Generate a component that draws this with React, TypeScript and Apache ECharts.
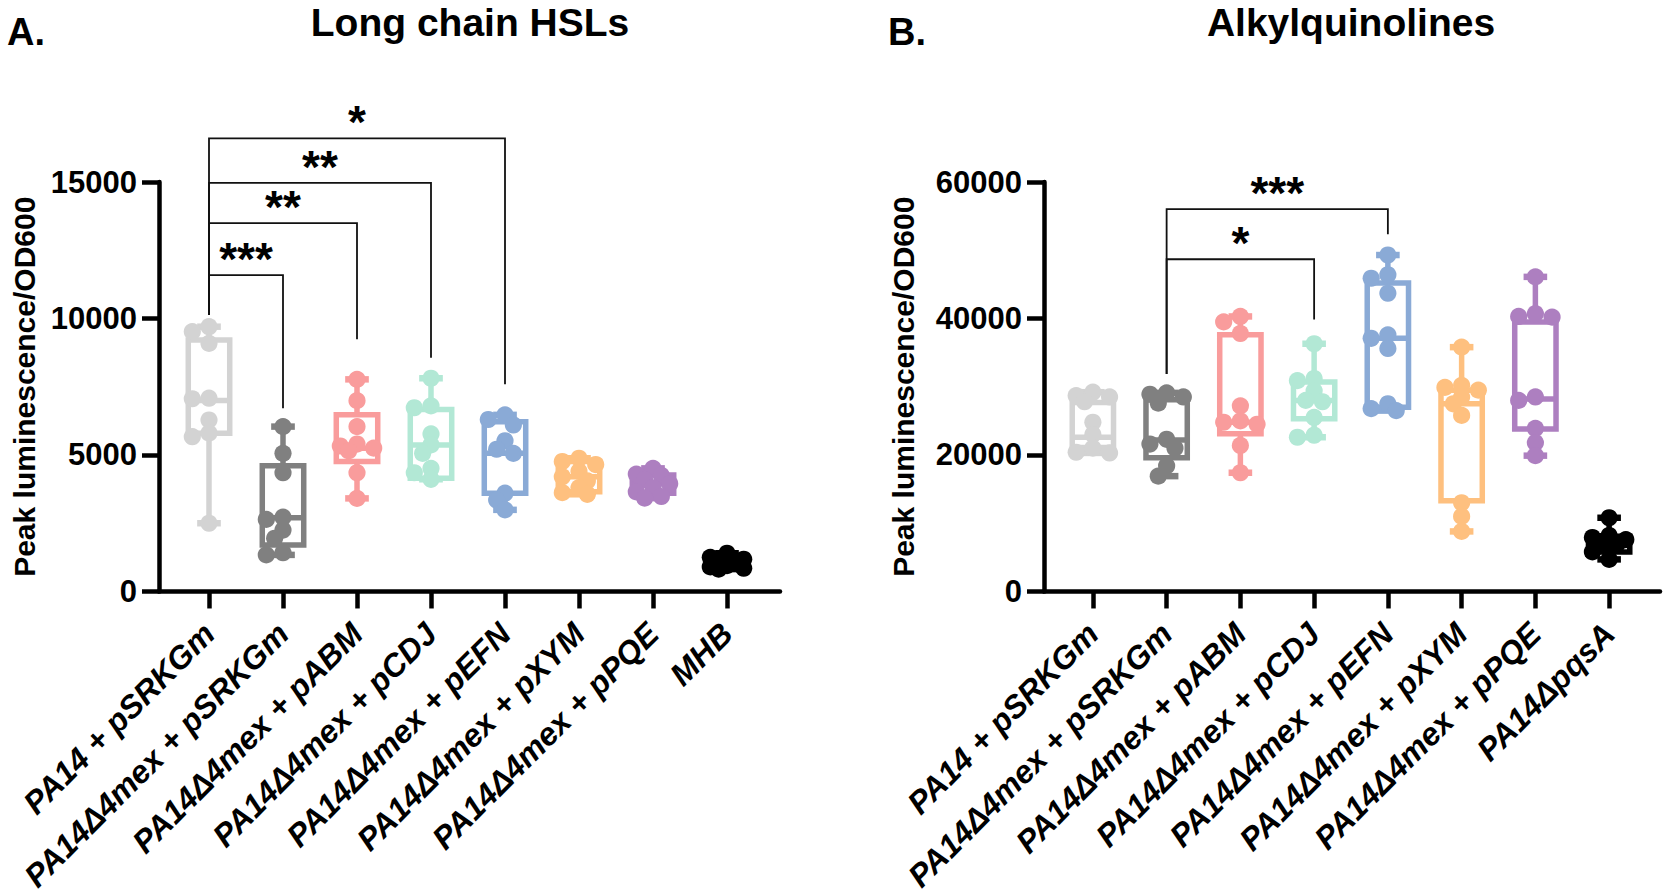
import React, { useEffect, useRef } from "react";
import * as echarts from "echarts";

const FONT = "'Liberation Sans', Arial, Helvetica, sans-serif";

const categoriesA = [
  "PA14 + pSRKGm",
  "PA14Δ4mex + pSRKGm",
  "PA14Δ4mex + pABM",
  "PA14Δ4mex + pCDJ",
  "PA14Δ4mex + pEFN",
  "PA14Δ4mex + pXYM",
  "PA14Δ4mex + pPQE",
  "MHB",
];
const categoriesB = [
  "PA14 + pSRKGm",
  "PA14Δ4mex + pSRKGm",
  "PA14Δ4mex + pABM",
  "PA14Δ4mex + pCDJ",
  "PA14Δ4mex + pEFN",
  "PA14Δ4mex + pXYM",
  "PA14Δ4mex + pPQE",
  "PA14ΔpqsA",
];
const groupColors = ["#d3d3d3", "#808080", "#f99c9c", "#b2e8d5", "#8aaad6", "#fec07f", "#ad7fc0", "#000000"];

// Panel A: individual points per group
const pointsA = [
  [9700, 9520, 9090, 7080, 7060, 6280, 5800, 5670, 2500],
  [6040, 5060, 4350, 2720, 2640, 2250, 1950, 1420, 1340],
  [7770, 6990, 6040, 5400, 5330, 5250, 5150, 4350, 3410],
  [7810, 6800, 6730, 5770, 5370, 5060, 4510, 4350, 4110],
  [6470, 6300, 6100, 5520, 5210, 5060, 3600, 3350, 2990],
  [4880, 4760, 4650, 4400, 4200, 4050, 3800, 3620, 3560],
  [4510, 4300, 4250, 4100, 3950, 3800, 3650, 3480, 3420],
  [1400, 1250, 1180, 1100, 1050, 950, 900, 850, 820],
];
// Panel A: [min, Q1, median, Q3, max]
const boxesA = [
  [2500, 5800, 7000, 9210, 9700],
  [1340, 1700, 2700, 4610, 6040],
  [3410, 4760, 5250, 6470, 7770],
  [4110, 4150, 5370, 6670, 7810],
  [2990, 3600, 5060, 6220, 6470],
  [3560, 3650, 4200, 4760, 4880],
  [3420, 3600, 3950, 4270, 4510],
  [820, 900, 1050, 1200, 1400],
];

// Panel B
const pointsB = [
  [29200, 28700, 28500, 27800, 24800, 23000, 21000, 20400, 20300],
  [29100, 28900, 28500, 27600, 22300, 21600, 21000, 18400, 16900],
  [40300, 39500, 37800, 27200, 25000, 24800, 24500, 21400, 17400],
  [36300, 31200, 30900, 29400, 28000, 27800, 25500, 22900, 22600],
  [49300, 46400, 45900, 43700, 37600, 37100, 35600, 27500, 26800, 26500],
  [35800, 30200, 29900, 29500, 28500, 27500, 25800, 13000, 11000, 8800],
  [46100, 40700, 40300, 40200, 28500, 28000, 23900, 21800, 19900],
  [10800, 8200, 7900, 7600, 7300, 7000, 6700, 5800, 4700],
];
const boxesB = [
  [20300, 21100, 22600, 27700, 29200],
  [16900, 19600, 22200, 28100, 29100],
  [17400, 23100, 24800, 37600, 40300],
  [22600, 25300, 28000, 30700, 36300],
  [26500, 27000, 37100, 45200, 49300],
  [8800, 13300, 27500, 29500, 35800],
  [19900, 23800, 28200, 39500, 46100],
  [4700, 5800, 7300, 8100, 10800],
];

// Significance brackets
const bracketFromA = [0, 0, 0, 0];
const bracketToA = [1, 2, 3, 4];
const bracketTopA = [11590, 13490, 14970, 16600];
const bracketLegFromA = [10130, 10130, 10130, 10130];
const bracketLegToA = [6710, 9240, 8560, 7590];
const bracketLabelA = ["***", "**", "**", "*"];

const bracketFromB = [1, 1];
const bracketToB = [3, 4];
const bracketTopB = [48680, 56030];
const bracketLegFromB = [31850, 31850];
const bracketLegToB = [39850, 52350];
const bracketLabelB = ["*", "***"];

const yMaxA = 15000;
const yStepA = 5000;
const yMaxB = 60000;
const yStepB = 20000;

function boxRender(boxes: number[][]) {
  return (params: any, api: any) => {
    const i = params.dataIndex;
    const [mn, q1, md, q3, mx] = boxes[i];
    const band = api.size([1, 0])[0];
    const cx = api.coord([i, md])[0];
    const y = (v: number) => api.coord([i, v])[1];
    const w = band * 0.56;
    const cw = band * 0.32;
    const c = groupColors[i];
    const ls = { stroke: c, lineWidth: 5.5, fill: "none" };
    const cs = { stroke: c, lineWidth: 6.5, fill: "none" };
    return {
      type: "group",
      children: [
        { type: "line", shape: { x1: cx, y1: y(q3), x2: cx, y2: y(mx) }, style: ls },
        { type: "line", shape: { x1: cx, y1: y(q1), x2: cx, y2: y(mn) }, style: ls },
        { type: "line", shape: { x1: cx - cw / 2, y1: y(mx), x2: cx + cw / 2, y2: y(mx) }, style: cs },
        { type: "line", shape: { x1: cx - cw / 2, y1: y(mn), x2: cx + cw / 2, y2: y(mn) }, style: cs },
        { type: "rect", shape: { x: cx - w / 2, y: y(q3), width: w, height: y(q1) - y(q3) }, style: ls },
        { type: "line", shape: { x1: cx - w / 2, y1: y(md), x2: cx + w / 2, y2: y(md) }, style: ls },
      ],
    };
  };
}

// beeswarm offsets (pixels) for one group, computed from pixel y positions
function swarm(py: number[]) {
  const STEP = 8.35;
  const D = 10.5;
  const cands = [0, -STEP, STEP, -2 * STEP, 2 * STEP];
  const order = py.map((_, j) => j).sort((a, b) => py[a] - py[b]);
  const placed: { x: number; y: number }[] = [];
  const off: number[] = new Array(py.length).fill(0);
  order.forEach((j) => {
    let best = 0;
    let bestD = -1;
    let chosen: number | null = null;
    for (const c of cands) {
      let md = Infinity;
      for (const p of placed) md = Math.min(md, Math.hypot(p.x - c, p.y - py[j]));
      if (md >= D) {
        chosen = c;
        break;
      }
      if (md > bestD) {
        bestD = md;
        best = c;
      }
    }
    const x = chosen !== null ? chosen : best;
    off[j] = x;
    placed.push({ x, y: py[j] });
  });
  return off;
}

function pointRender(points: number[][], flat: number[][]) {
  const R = 8.6;
  return (params: any, api: any) => {
    const [g, k] = flat[params.dataIndex];
    const vals = points[g];
    const py = vals.map((v) => api.coord([g, v])[1]);
    const off = swarm(py);
    const cx = api.coord([g, vals[k]])[0] + off[k];
    return {
      type: "circle",
      shape: { cx, cy: py[k], r: R },
      style: { fill: groupColors[g], stroke: "none" },
    };
  };
}

function bracketRender(from: number[], to: number[], top: number[], legFrom: number[], legTo: number[], labels: string[]) {
  return (params: any, api: any) => {
    const i = params.dataIndex;
    const p1 = api.coord([from[i], legFrom[i]]);
    const p2 = api.coord([from[i], top[i]]);
    const p3 = api.coord([to[i], top[i]]);
    const p4 = api.coord([to[i], legTo[i]]);
    return {
      type: "group",
      children: [
        {
          type: "polyline",
          shape: { points: [p1, p2, p3, p4] },
          style: { stroke: "#111", lineWidth: 1.8, fill: "none" },
        },
        {
          type: "text",
          x: (p2[0] + p3[0]) / 2,
          y: p2[1] - 16,
          style: {
            text: labels[i],
            fontSize: 46,
            fontWeight: "bold",
            fontFamily: FONT,
            fill: "#000",
            align: "center",
            verticalAlign: "middle",
          },
        },
      ],
    };
  };
}

function flatten(points: number[][]) {
  const out: number[][] = [];
  points.forEach((g, gi) => g.forEach((_, k) => out.push([gi, k])));
  return out;
}

export default function App() {
  const ref = useRef<HTMLDivElement>(null);
  useEffect(() => {
    document.body.style.margin = "0";
    if (!ref.current) return;
    const chart = echarts.init(ref.current, undefined, { renderer: "svg" });

    const flatA = flatten(pointsA);
    const flatB = flatten(pointsB);

    const axisLineStyle = { color: "#000", width: 4.5 };
    const catAxis = (gridIndex: number, data: string[]) => ({
      type: "category",
      gridIndex,
      data,
      boundaryGap: true,
      axisLine: { show: false },
      axisTick: { show: true, alignWithLabel: true, length: 17, interval: 0, lineStyle: axisLineStyle },
      axisLabel: {
        interval: 0,
        rotate: 45,
        margin: 37,
        color: "#000",
        fontSize: 32,
        fontStyle: "italic",
        fontWeight: "bold",
        fontFamily: FONT,
      },
      splitLine: { show: false },
    });
    const valAxis = (gridIndex: number, max: number, step: number, offset: number, nameGap: number) => ({
      type: "value",
      gridIndex,
      min: 0,
      max,
      interval: step,
      offset,
      name: "Peak luminescence/OD600",
      nameLocation: "middle",
      nameGap,
      nameTextStyle: { color: "#000", fontSize: 30, fontWeight: "bold", fontFamily: FONT },
      axisLine: { show: true, lineStyle: axisLineStyle },
      axisTick: { show: true, length: 17, lineStyle: axisLineStyle },
      axisLabel: {
        color: "#000",
        fontSize: 31,
        fontWeight: "bold",
        fontFamily: FONT,
        margin: 22,
        formatter: (v: number) => String(v),
      },
      splitLine: { show: false },
    });
    const lineAxis = (gridIndex: number) => ({
      type: "value",
      gridIndex,
      min: 0,
      max: 1,
      axisLine: { show: true, onZero: false, lineStyle: axisLineStyle },
      axisTick: { show: false },
      axisLabel: { show: false },
      splitLine: { show: false },
    });
    const hiddenAxis = (gridIndex: number) => ({ type: "value", gridIndex, min: 0, max: 1, show: false });

    chart.setOption({
      animation: false,
      backgroundColor: "#fff",
      textStyle: { fontFamily: FONT },
      grid: [
        { left: 172, top: 182, width: 592, height: 409.5 },
        { left: 1056, top: 182, width: 590, height: 409.5 },
        { left: 159, top: 182, width: 621, height: 409.5 },
        { left: 1044, top: 182, width: 616, height: 409.5 },
      ],
      xAxis: [catAxis(0, categoriesA), catAxis(1, categoriesB), lineAxis(2), lineAxis(3)],
      yAxis: [
        valAxis(0, yMaxA, yStepA, 13, 120),
        valAxis(1, yMaxB, yStepB, 12, 126),
        hiddenAxis(2),
        hiddenAxis(3),
      ],
      graphic: [
        { type: "text", x: 7, y: 32, style: { text: "A.", fontSize: 38, fontWeight: "bold", fontFamily: FONT, fill: "#000", verticalAlign: "middle" } },
        { type: "text", x: 470, y: 22, style: { text: "Long chain HSLs", fontSize: 39, fontWeight: "bold", fontFamily: FONT, fill: "#000", align: "center", verticalAlign: "middle" } },
        { type: "text", x: 888, y: 32, style: { text: "B.", fontSize: 38, fontWeight: "bold", fontFamily: FONT, fill: "#000", verticalAlign: "middle" } },
        { type: "text", x: 1351, y: 22, style: { text: "Alkylquinolines", fontSize: 39, fontWeight: "bold", fontFamily: FONT, fill: "#000", align: "center", verticalAlign: "middle" } },
      ],
      series: [
        {
          type: "custom",
          xAxisIndex: 0,
          yAxisIndex: 0,
          clip: false,
          data: boxesA.map((b, i) => [i, ...b]),
          encode: { x: 0, y: [1, 2, 3, 4, 5] },
          renderItem: boxRender(boxesA),
          silent: true,
        },
        {
          type: "custom",
          xAxisIndex: 0,
          yAxisIndex: 0,
          clip: false,
          data: flatA.map(([g, k]) => [g, pointsA[g][k]]),
          encode: { x: 0, y: 1 },
          renderItem: pointRender(pointsA, flatA),
          silent: true,
        },
        {
          type: "custom",
          xAxisIndex: 0,
          yAxisIndex: 0,
          clip: false,
          data: bracketFromA.map((f, i) => [f, bracketTopA[i]]),
          encode: { x: 0, y: 1 },
          renderItem: bracketRender(bracketFromA, bracketToA, bracketTopA, bracketLegFromA, bracketLegToA, bracketLabelA),
          silent: true,
        },
        {
          type: "custom",
          xAxisIndex: 1,
          yAxisIndex: 1,
          clip: false,
          data: boxesB.map((b, i) => [i, ...b]),
          encode: { x: 0, y: [1, 2, 3, 4, 5] },
          renderItem: boxRender(boxesB),
          silent: true,
        },
        {
          type: "custom",
          xAxisIndex: 1,
          yAxisIndex: 1,
          clip: false,
          data: flatB.map(([g, k]) => [g, pointsB[g][k]]),
          encode: { x: 0, y: 1 },
          renderItem: pointRender(pointsB, flatB),
          silent: true,
        },
        {
          type: "custom",
          xAxisIndex: 1,
          yAxisIndex: 1,
          clip: false,
          data: bracketFromB.map((f, i) => [f, bracketTopB[i]]),
          encode: { x: 0, y: 1 },
          renderItem: bracketRender(bracketFromB, bracketToB, bracketTopB, bracketLegFromB, bracketLegToB, bracketLabelB),
          silent: true,
        },
      ],
    });
    return () => chart.dispose();
  }, []);
  return <div ref={ref} style={{ width: 1666, height: 895 }} />;
}
